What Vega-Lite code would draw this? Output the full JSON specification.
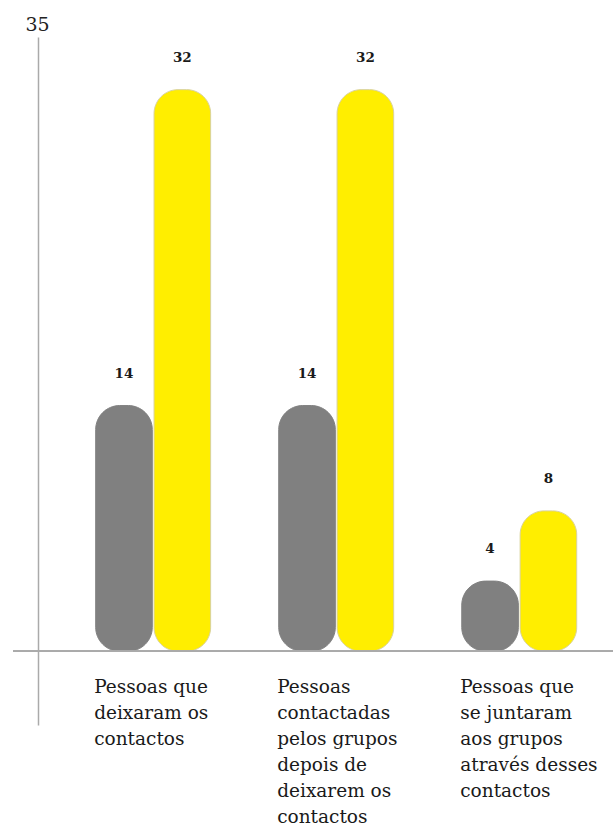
{
  "$schema": "https://vega.github.io/schema/vega-lite/v6.json",
  "width": 600,
  "height": 688,
  "autosize": {"type": "none"},
  "padding": {"left": 13, "top": 37, "right": 0, "bottom": 100},
  "background": "white",
  "config": {"view": {"stroke": null}},
  "data": {
    "values": [
      {"grupo": "Pessoas que|deixaram os|contactos", "serie": "A", "valor": 14},
      {"grupo": "Pessoas que|deixaram os|contactos", "serie": "B", "valor": 32},
      {"grupo": "Pessoas|contactadas|pelos grupos|depois de|deixarem os|contactos", "serie": "A", "valor": 14},
      {"grupo": "Pessoas|contactadas|pelos grupos|depois de|deixarem os|contactos", "serie": "B", "valor": 32},
      {"grupo": "Pessoas que|se juntaram|aos grupos|através desses|contactos", "serie": "A", "valor": 4},
      {"grupo": "Pessoas que|se juntaram|aos grupos|através desses|contactos", "serie": "B", "valor": 8}
    ]
  },
  "encoding": {
    "x": {
      "field": "grupo",
      "type": "nominal",
      "sort": null,
      "scale": {"paddingInner": 0.372, "paddingOuter": 0.325, "align": 0.695},
      "axis": {
        "title": null,
        "domain": false,
        "ticks": false,
        "labelAngle": 0,
        "labelAlign": "left",
        "labelBaseline": "top",
        "labelOffset": -59,
        "labelPadding": -48,
        "labelLineHeight": 26,
        "labelFont": "DejaVu Serif",
        "labelFontSize": 18.5,
        "labelColor": "#1a1a1a",
        "labelLimit": 0,
        "labelOverlap": false,
        "labelFlush": false,
        "labelExpr": "split(datum.label, '|')"
      }
    },
    "xOffset": {"field": "serie", "type": "nominal", "scale": {"paddingInner": 0.03}},
    "y": {
      "field": "valor",
      "type": "quantitative",
      "scale": {"domain": [-4.2, 35], "nice": false, "zero": false},
      "axis": {
        "offset": -25,
        "grid": false,
        "ticks": false,
        "labels": false,
        "domainColor": "#aaaaaa",
        "domainWidth": 1.5,
        "title": "35",
        "titleAngle": 0,
        "titleX": -1,
        "titleY": -3,
        "titleAlign": "center",
        "titleBaseline": "bottom",
        "titleFont": "DejaVu Serif",
        "titleFontSize": 19,
        "titleFontWeight": "normal",
        "titleColor": "#222222"
      }
    }
  },
  "layer": [
    {
      "mark": {"type": "bar", "cornerRadius": 24, "strokeWidth": 1},
      "encoding": {
        "y2": {"datum": 0},
        "color": {"field": "serie", "type": "nominal", "scale": {"domain": ["A", "B"], "range": ["#808080", "#ffee00"]}, "legend": null},
        "stroke": {"field": "serie", "type": "nominal", "scale": {"domain": ["A", "B"], "range": ["#808080", "#d9d29c"]}, "legend": null}
      }
    },
    {
      "mark": {"type": "rule", "color": "#aaaaaa", "strokeWidth": 1.5},
      "encoding": {"y": {"datum": 0}, "x": null, "xOffset": null}
    },
    {
      "mark": {"type": "text", "baseline": "bottom", "dy": -25, "font": "DejaVu Serif", "fontWeight": "bold", "fontSize": 13.5, "color": "#1a1a1a"},
      "encoding": {"text": {"field": "valor", "type": "quantitative"}}
    }
  ]
}
